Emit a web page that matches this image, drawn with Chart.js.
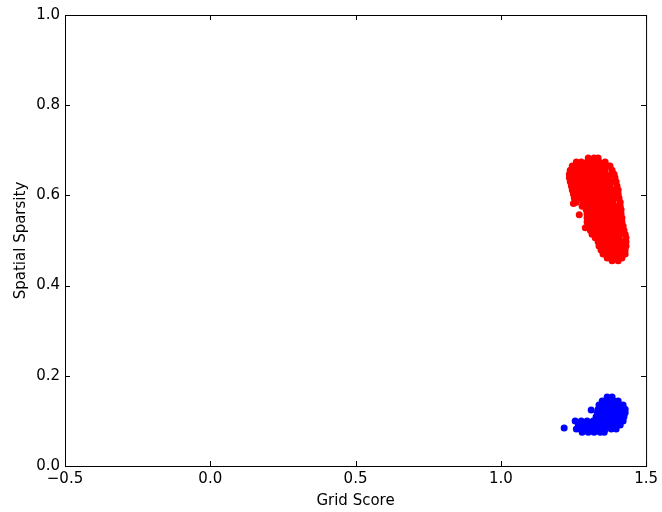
<!DOCTYPE html>
<html>
<head>
<meta charset="utf-8">
<script src="https://cdn.jsdelivr.net/npm/chart.js@4"></script>
<style>
  html, body { margin: 0; padding: 0; background: #fff; }
  #wrap { width: 662px; height: 512px; }
</style>
</head>
<body>
<div id="wrap"><canvas id="grafico" width="662" height="512"></canvas></div>
<script>
// tick labels
const xTickLabels = ["\u22120.5", "0.0", "0.5", "1.0", "1.5"];
const yTickLabels = ["0.0", "0.2", "0.4", "0.6", "0.8", "1.0"];

// red cells [grid score, spatial sparsity]
const redPoints = [
  [1.301,0.683],[1.321,0.683],[1.335,0.683],
  [1.260,0.674],[1.277,0.674],[1.297,0.674],[1.318,0.674],[1.338,0.674],[1.359,0.674],
  [1.246,0.665],[1.267,0.665],[1.287,0.665],[1.308,0.665],[1.328,0.665],[1.349,0.665],[1.369,0.665],[1.376,0.665],
  [1.239,0.656],[1.256,0.656],[1.277,0.656],[1.297,0.656],[1.318,0.656],[1.338,0.656],[1.359,0.656],[1.383,0.656],
  [1.236,0.647],[1.256,0.647],[1.277,0.647],[1.297,0.647],[1.318,0.647],[1.338,0.647],[1.359,0.647],[1.380,0.647],[1.390,0.647],
  [1.236,0.639],[1.246,0.639],[1.267,0.639],[1.287,0.639],[1.308,0.639],[1.328,0.639],[1.349,0.639],[1.369,0.639],[1.393,0.639],
  [1.239,0.630],[1.260,0.630],[1.280,0.630],[1.301,0.630],[1.321,0.630],[1.342,0.630],[1.362,0.630],[1.383,0.630],[1.397,0.630],
  [1.243,0.621],[1.253,0.621],[1.273,0.621],[1.294,0.621],[1.314,0.621],[1.335,0.621],[1.356,0.621],[1.376,0.621],[1.400,0.621],
  [1.246,0.612],[1.267,0.612],[1.287,0.612],[1.308,0.612],[1.328,0.612],[1.349,0.612],[1.369,0.612],[1.390,0.612],[1.404,0.612],
  [1.250,0.603],[1.260,0.603],[1.280,0.603],[1.301,0.603],[1.321,0.603],[1.342,0.603],[1.362,0.603],[1.383,0.603],[1.404,0.603],
  [1.253,0.594],[1.273,0.594],[1.294,0.594],[1.314,0.594],[1.335,0.594],[1.356,0.594],[1.376,0.594],[1.397,0.594],[1.407,0.594],
  [1.260,0.585],[1.284,0.585],[1.304,0.585],[1.325,0.585],[1.345,0.585],[1.366,0.585],[1.386,0.585],[1.411,0.585],
  [1.250,0.582],
  [1.280,0.576],[1.301,0.576],[1.321,0.576],[1.342,0.576],[1.362,0.576],[1.383,0.576],[1.404,0.576],[1.411,0.576],
  [1.294,0.568],[1.311,0.568],[1.332,0.568],[1.352,0.568],[1.373,0.568],[1.393,0.568],[1.414,0.568],
  [1.297,0.559],[1.318,0.559],[1.338,0.559],[1.359,0.559],[1.380,0.559],[1.400,0.559],[1.414,0.559],
  [1.270,0.557],
  [1.297,0.550],[1.308,0.550],[1.328,0.550],[1.349,0.550],[1.369,0.550],[1.390,0.550],[1.411,0.550],[1.417,0.550],
  [1.297,0.541],[1.318,0.541],[1.338,0.541],[1.359,0.541],[1.380,0.541],[1.400,0.541],[1.417,0.541],
  [1.301,0.532],[1.311,0.532],[1.332,0.532],[1.352,0.532],[1.373,0.532],[1.393,0.532],[1.414,0.532],[1.421,0.532],
  [1.291,0.528],
  [1.308,0.523],[1.328,0.523],[1.349,0.523],[1.369,0.523],[1.390,0.523],[1.411,0.523],[1.424,0.523],
  [1.314,0.514],[1.325,0.514],[1.345,0.514],[1.366,0.514],[1.386,0.514],[1.407,0.514],[1.428,0.514],
  [1.325,0.506],[1.345,0.506],[1.366,0.506],[1.386,0.506],[1.407,0.506],[1.431,0.506],
  [1.335,0.497],[1.356,0.497],[1.376,0.497],[1.397,0.497],[1.417,0.497],[1.431,0.497],
  [1.338,0.488],[1.359,0.488],[1.380,0.488],[1.400,0.488],[1.421,0.488],[1.431,0.488],
  [1.345,0.479],[1.366,0.479],[1.386,0.479],[1.407,0.479],[1.428,0.479],
  [1.352,0.470],[1.373,0.470],[1.393,0.470],[1.414,0.470],[1.428,0.470],
  [1.366,0.461],[1.383,0.461],[1.404,0.461],[1.417,0.461],
  [1.383,0.455],[1.404,0.455]
];

// blue cells
const bluePoints = [
  [1.366,0.153],[1.383,0.153],
  [1.349,0.144],[1.369,0.144],[1.390,0.144],[1.404,0.144],
  [1.338,0.135],[1.359,0.135],[1.380,0.135],[1.400,0.135],[1.421,0.135],
  [1.335,0.126],[1.349,0.126],[1.369,0.126],[1.390,0.126],[1.411,0.126],[1.428,0.126],
  [1.311,0.124],
  [1.332,0.118],[1.352,0.118],[1.373,0.118],[1.393,0.118],[1.414,0.118],[1.428,0.118],
  [1.328,0.109],[1.342,0.109],[1.362,0.109],[1.383,0.109],[1.404,0.109],[1.424,0.109],
  [1.256,0.100],[1.277,0.100],[1.297,0.100],[1.318,0.100],[1.338,0.100],[1.359,0.100],[1.380,0.100],[1.400,0.100],[1.421,0.100],
  [1.267,0.091],[1.287,0.091],[1.308,0.091],[1.328,0.091],[1.349,0.091],[1.369,0.091],[1.390,0.091],[1.411,0.091],
  [1.218,0.084],
  [1.260,0.082],[1.277,0.082],[1.297,0.082],[1.318,0.082],[1.338,0.082],[1.359,0.082],[1.380,0.082],[1.397,0.082],
  [1.280,0.075],[1.301,0.075],[1.321,0.075],[1.342,0.075],[1.356,0.075]
];

const toXY = (arr) => arr.map((p) => ({ x: p[0], y: p[1] }));

// marco + ticks hacia dentro en los cuatro lados (estilo matplotlib)
const TICK_LEN = 5;
const frameTicks = {
  id: "frameTicks",
  afterDatasetsDraw(chart) {
    const { ctx, chartArea: a, scales } = chart;
    ctx.save();
    ctx.strokeStyle = "#000";
    ctx.lineWidth = 1;
    ctx.beginPath();
    scales.x.ticks.forEach((t) => {
      const px = Math.round(scales.x.getPixelForValue(t.value)) + 0.5;
      ctx.moveTo(px, a.bottom);
      ctx.lineTo(px, a.bottom - TICK_LEN);
      ctx.moveTo(px, a.top);
      ctx.lineTo(px, a.top + TICK_LEN);
    });
    scales.y.ticks.forEach((t) => {
      const py = Math.round(scales.y.getPixelForValue(t.value)) + 0.5;
      ctx.moveTo(a.left, py);
      ctx.lineTo(a.left + TICK_LEN, py);
      ctx.moveTo(a.right, py);
      ctx.lineTo(a.right - TICK_LEN, py);
    });
    ctx.stroke();
    ctx.strokeRect(a.left + 0.5, a.top + 0.5, a.right - a.left, a.bottom - a.top);
    ctx.restore();
  },
};

Chart.defaults.font.family = "'DejaVu Sans', sans-serif";
Chart.defaults.font.size = 15;
Chart.defaults.color = "#000";

const ctx = document.getElementById("grafico").getContext("2d");
new Chart(ctx, {
  type: "scatter",
  data: {
    datasets: [
      {
        label: "red",
        data: toXY(redPoints),
        backgroundColor: "#ff0000",
        borderWidth: 0,
        pointRadius: 3.5,
      },
      {
        label: "blue",
        data: toXY(bluePoints),
        backgroundColor: "#0000ff",
        borderWidth: 0,
        pointRadius: 3.5,
      },
    ],
  },
  options: {
    responsive: false,
    animation: false,
    layout: { padding: { top: 15, right: 14, left: 0, bottom: 0 } },
    plugins: {
      legend: { display: false },
      tooltip: { enabled: false },
    },
    scales: {
      x: {
        type: "linear",
        min: -0.5,
        max: 1.5,
        grid: { display: false, drawTicks: false },
        border: { display: false },
        ticks: {
          stepSize: 0.5,
          padding: 4,
          maxRotation: 0,
          callback: (value, index) => xTickLabels[index],
        },
        title: {
          display: true,
          text: "Grid Score",
          padding: { top: 0, bottom: 2 },
        },
        afterFit: (scale) => {
          scale.height = 46;
        },
      },
      y: {
        type: "linear",
        min: 0,
        max: 1,
        grid: { display: false, drawTicks: false },
        border: { display: false },
        ticks: {
          stepSize: 0.2,
          padding: 5,
          callback: (value, index) => yTickLabels[index],
        },
        title: {
          display: true,
          text: "Spatial Sparsity",
          padding: { top: 12, bottom: 0 },
        },
        afterFit: (scale) => {
          scale.width = 65;
        },
      },
    },
  },
  plugins: [frameTicks],
});
</script>
</body>
</html>
